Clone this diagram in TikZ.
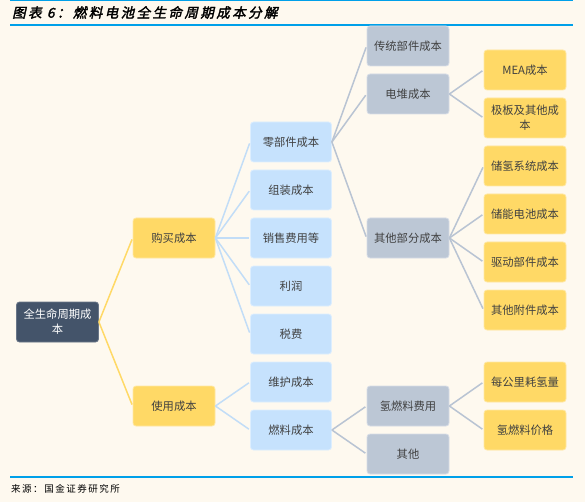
\documentclass[tikz,border=0pt]{standalone}
\usepackage{fontspec}
\newfontfamily\cjk{Noto Sans CJK SC}
\newfontfamily\titlefont{Noto Sans CJK SC}[FakeSlant=0.22,FakeBold=2.2,LetterSpace=18]
\newfontfamily\srcfont{Noto Sans CJK SC}[LetterSpace=16]
\definecolor{bgc}{HTML}{FEF9EF}
\definecolor{rulec}{HTML}{00A0E9}
\definecolor{rootc}{HTML}{44546A}
\definecolor{yelc}{HTML}{FFD966}
\definecolor{bluc}{HTML}{C6E2FD}
\definecolor{gryc}{HTML}{BCC7D5}
\definecolor{txtc}{HTML}{404040}
\definecolor{lnyel}{HTML}{FFD966}
\definecolor{lnblu}{HTML}{C2DDF7}
\definecolor{lngry}{HTML}{B9C4D3}
\tikzset{
  box/.style={rounded corners=3pt, minimum width=82pt, minimum height=40pt,
    inner sep=1pt, align=center, text=txtc, font=\cjk\fontsize{11.3}{15}\selectfont, line width=0.8pt},
  rootbox/.style={box, fill=rootc, draw=rootc!80!white, text=white},
  yelbox/.style={box, fill=yelc, draw=yelc!60!white},
  blubox/.style={box, fill=bluc, draw=bluc!60!white, minimum width=81pt},
  grybox/.style={box, fill=gryc, draw=gryc!60!white},
  eyel/.style={draw=lnyel, line width=1.5pt, shorten >=1.5pt},
  eblu/.style={draw=lnblu, line width=1.5pt, shorten >=1.5pt},
  egry/.style={draw=lngry, line width=1.5pt, shorten >=1.5pt},
}
\begin{document}
\begin{tikzpicture}[x=1pt,y=-1pt]
\fill[bgc] (0,0) rectangle (585,502);
\useasboundingbox (0,0) rectangle (585,502);
% rules
\draw[rulec, line width=1.5pt] (10,0.6) -- (573,0.6);
\draw[rulec, line width=2.2pt] (10,25) -- (573,25);
\draw[rulec, line width=2.2pt] (10,477) -- (573,477);
\node[anchor=west, inner sep=0pt, font=\titlefont\fontsize{13.5}{15}\selectfont, text=black] (title) at (12,12.5) {图表 6：燃料电池全生命周期成本分解};
\node[anchor=west, inner sep=0pt, font=\srcfont\fontsize{9.5}{11}\selectfont, text=black] (src) at (11,488.5) {来源：国金证券研究所};
% level 0
\node[rootbox] (root) at (57.5,322) {全生命周期成\\本};
% level 1
\node[yelbox] (buy) at (174,238) {购买成本};
\node[yelbox] (use) at (174,406) {使用成本};
% level 2
\node[blubox] (parts) at (291,142) {零部件成本};
\node[blubox] (assem) at (291,190) {组装成本};
\node[blubox] (sales) at (291,238) {销售费用等};
\node[blubox] (profit) at (291,286) {利润};
\node[blubox] (tax) at (291,334) {税费};
\node[blubox] (maint) at (291,382) {维护成本};
\node[blubox] (fuel) at (291,430) {燃料成本};
% level 3
\node[grybox] (trad) at (408,46) {传统部件成本};
\node[grybox] (stack) at (408,94) {电堆成本};
\node[grybox] (other) at (408,238) {其他部分成本};
\node[grybox] (h2fee) at (408,406) {氢燃料费用};
\node[grybox] (misc) at (408,454) {其他};
% level 4
\node[yelbox] (mea) at (525,70) {MEA成本};
\node[yelbox] (plate) at (525,118) {极板及其他成\\本};
\node[yelbox] (h2sto) at (525,166) {储氢系统成本};
\node[yelbox] (batt) at (525,214) {储能电池成本};
\node[yelbox] (drive) at (525,262) {驱动部件成本};
\node[yelbox] (acc) at (525,310) {其他附件成本};
\node[yelbox] (perkm) at (525,382) {每公里耗氢量};
\node[yelbox] (price) at (525,430) {氢燃料价格};
% connectors
\draw[eyel] (root.east) -- (buy.west);
\draw[eyel] (root.east) -- (use.west);
\foreach \c in {parts,assem,sales,profit,tax} \draw[eblu] (buy.east) -- (\c.west);
\foreach \c in {maint,fuel} \draw[eblu] (use.east) -- (\c.west);
\foreach \c in {trad,stack,other} \draw[egry] (parts.east) -- (\c.west);
\foreach \c in {h2fee,misc} \draw[egry] (fuel.east) -- (\c.west);
\foreach \c in {mea,plate} \draw[egry] (stack.east) -- (\c.west);
\foreach \c in {h2sto,batt,drive,acc} \draw[egry] (other.east) -- (\c.west);
\foreach \c in {perkm,price} \draw[egry] (h2fee.east) -- (\c.west);
\end{tikzpicture}
\end{document}
